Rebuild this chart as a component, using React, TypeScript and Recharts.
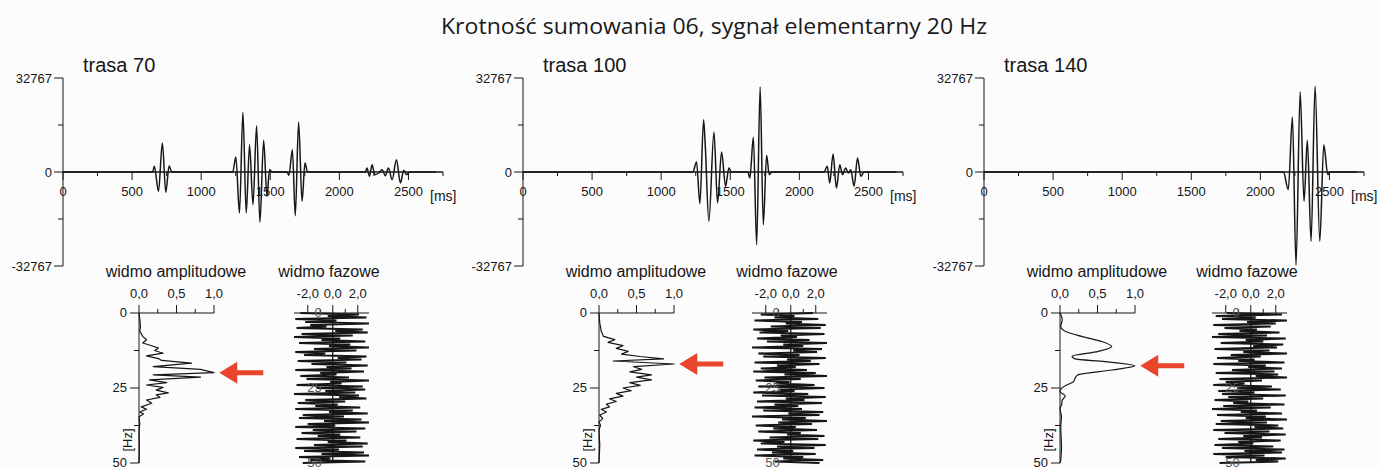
import React from 'react';
import { LineChart, Line, XAxis, YAxis, ReferenceLine, ReferenceDot } from 'recharts';

const SANS = '"Liberation Sans", Arial, Helvetica, sans-serif';
const TITLE_FONT = '"Open Sans", "Noto Sans", sans-serif';
const INK = '#161616';
const ARROW_RED = '#e8452c';

const TITLE = 'Krotność sumowania 06, sygnał elementarny 20 Hz';
const TRACE_NAMES = ['trasa 70', 'trasa 100', 'trasa 140'];
const AMP_TITLE = 'widmo amplitudowe';
const PHASE_TITLE = 'widmo fazowe';
const TIME_UNIT = '[ms]';
const FREQ_UNIT = '[Hz]';

// axis ticks
const TIME_TICKS = [0, 250, 500, 750, 1000, 1250, 1500, 1750, 2000, 2250, 2500, 2750];
const TIME_LABELS = [0, 500, 1000, 1500, 2000, 2500];
const LEVEL_TICKS = [-32767, -16384, 0, 16384, 32767];
const LEVEL_LABELS = [-32767, 0, 32767];
const RATIO_TICKS = [0, 0.25, 0.5, 0.75, 1];
const RATIO_LABELS = [0, 0.5, 1];
const FREQ_TICKS = [0, 12.5, 25, 37.5, 50];
const FREQ_LABELS = [0, 25, 50];
const PHASE_TICKS = [-2, -1, 0, 1, 2];
const PHASE_LABELS = [-2, 0, 2];
const PHASE_STEP_HZ = 0.5;

// seismic traces: time [ms], sample value
const TRACE_70 = [
  { t: 0, v: 0 }, { t: 649, v: 0 }, { t: 661, v: 1975 }, { t: 691, v: -6740 }, { t: 719, v: 10109 },
  { t: 744, v: -7088 }, { t: 768, v: 2208 }, { t: 787, v: 0 },
  { t: 1228, v: 0 }, { t: 1251, v: 5229 }, { t: 1277, v: -14292 }, { t: 1302, v: 20800 }, { t: 1326, v: -14292 },
  { t: 1350, v: 9528 }, { t: 1375, v: -11387 }, { t: 1401, v: 16152 }, { t: 1425, v: -17546 }, { t: 1452, v: 11039 },
  { t: 1476, v: -8482 }, { t: 1495, v: 900 }, { t: 1512, v: 0 },
  { t: 1621, v: 0 }, { t: 1635, v: -1160 }, { t: 1660, v: 7785 }, { t: 1681, v: -15222 }, { t: 1705, v: 17430 },
  { t: 1730, v: -10225 }, { t: 1751, v: 3137 }, { t: 1770, v: 0 },
  { t: 2188, v: 0 }, { t: 2200, v: 1394 }, { t: 2218, v: -1510 }, { t: 2237, v: 2556 }, { t: 2256, v: -930 },
  { t: 2285, v: -349 }, { t: 2309, v: 813 }, { t: 2333, v: -1278 }, { t: 2355, v: 1394 }, { t: 2382, v: -2672 },
  { t: 2413, v: 4299 }, { t: 2442, v: -3834 }, { t: 2466, v: 581 }, { t: 2486, v: -930 }, { t: 2510, v: 0 },
  { t: 2700, v: 0 },
];

const TRACE_100 = [
  { t: 0, v: 0 }, { t: 1229, v: 0 }, { t: 1256, v: 3486 }, { t: 1280, v: -11039 }, { t: 1307, v: 18243 },
  { t: 1319, v: 9296 }, { t: 1345, v: -17197 }, { t: 1382, v: 13944 }, { t: 1408, v: -10806 }, { t: 1437, v: 6972 },
  { t: 1466, v: -4997 }, { t: 1490, v: 1394 }, { t: 1508, v: 0 },
  { t: 1627, v: 0 }, { t: 1642, v: -2092 }, { t: 1667, v: 12084 }, { t: 1691, v: -25331 }, { t: 1716, v: 29630 },
  { t: 1739, v: -18359 }, { t: 1763, v: 5810 }, { t: 1782, v: -930 }, { t: 1802, v: 0 },
  { t: 2178, v: 0 }, { t: 2202, v: 1975 }, { t: 2220, v: -3834 }, { t: 2244, v: 6275 }, { t: 2268, v: -5577 },
  { t: 2293, v: 2556 }, { t: 2312, v: -930 }, { t: 2335, v: 1394 }, { t: 2355, v: -349 }, { t: 2372, v: 813 },
  { t: 2396, v: -4997 }, { t: 2421, v: 4880 }, { t: 2445, v: -1510 }, { t: 2468, v: 0 },
  { t: 2700, v: 0 },
];

const TRACE_140 = [
  { t: 0, v: 0 }, { t: 2167, v: 0 }, { t: 2202, v: -6158 }, { t: 2232, v: 19172 }, { t: 2258, v: -32500 },
  { t: 2288, v: 27887 }, { t: 2316, v: -10225 }, { t: 2340, v: 11039 }, { t: 2367, v: -24169 }, { t: 2396, v: 29862 },
  { t: 2430, v: -24169 }, { t: 2459, v: 9528 }, { t: 2488, v: -930 }, { t: 2505, v: 0 },
  { t: 2700, v: 0 },
];

// normalised amplitude spectra: frequency [Hz], amplitude
const AMP_70 = [
  { f: 0, a: 0 }, { f: 2, a: 0.01 }, { f: 4.5, a: 0.02 }, { f: 6, a: 0.01 }, { f: 7.8, a: 0.05 }, { f: 8.9, a: 0.1 },
  { f: 10, a: 0.05 }, { f: 10.9, a: 0.17 }, { f: 11.7, a: 0.26 }, { f: 12.5, a: 0.21 }, { f: 13.4, a: 0.32 },
  { f: 14.3, a: 0.1 }, { f: 15.2, a: 0.26 }, { f: 15.8, a: 0.3 }, { f: 16.7, a: 0.7 }, { f: 17.9, a: 0.19 },
  { f: 18.8, a: 0.82 }, { f: 19.9, a: 1.0 }, { f: 20.6, a: 0.19 }, { f: 21.4, a: 0.82 }, { f: 22.3, a: 0.14 },
  { f: 23.2, a: 0.37 }, { f: 24, a: 0.1 }, { f: 24.8, a: 0.32 }, { f: 25.7, a: 0.23 }, { f: 26.6, a: 0.39 },
  { f: 27.3, a: 0.23 }, { f: 28.1, a: 0.28 }, { f: 29, a: 0.1 }, { f: 30.1, a: 0.17 }, { f: 31.3, a: 0.03 },
  { f: 32.1, a: 0.1 }, { f: 33, a: 0.01 }, { f: 33.7, a: 0.06 }, { f: 34.6, a: 0 }, { f: 36.8, a: 0.01 },
  { f: 40, a: 0 }, { f: 45, a: 0.005 }, { f: 50, a: 0 },
];

const AMP_100 = [
  { f: 0, a: 0 }, { f: 3.3, a: 0.01 }, { f: 6.1, a: 0.03 }, { f: 7.8, a: 0.06 }, { f: 8.9, a: 0.21 }, { f: 9.8, a: 0.12 },
  { f: 10.9, a: 0.32 }, { f: 11.8, a: 0.23 }, { f: 12.8, a: 0.39 }, { f: 13.7, a: 0.3 }, { f: 14.5, a: 0.55 },
  { f: 15.3, a: 0.86 }, { f: 16, a: 0.19 }, { f: 17, a: 1.0 }, { f: 17.9, a: 0.46 }, { f: 18.8, a: 0.57 },
  { f: 19.6, a: 0.41 }, { f: 20.6, a: 0.7 }, { f: 21.4, a: 0.5 }, { f: 22.3, a: 0.7 }, { f: 23.2, a: 0.41 },
  { f: 24.1, a: 0.55 }, { f: 25, a: 0.32 }, { f: 25.9, a: 0.43 }, { f: 26.8, a: 0.23 }, { f: 27.7, a: 0.32 },
  { f: 28.6, a: 0.14 }, { f: 29.5, a: 0.23 }, { f: 30.4, a: 0.1 }, { f: 31.3, a: 0.14 }, { f: 32.1, a: 0.03 },
  { f: 33, a: 0.1 }, { f: 34, a: 0.01 }, { f: 35.2, a: 0.05 }, { f: 36.3, a: 0 }, { f: 37.4, a: 0.02 },
  { f: 39, a: 0 }, { f: 44, a: 0.01 }, { f: 50, a: 0 },
];

const AMP_140 = [
  { f: 0, a: 0 }, { f: 2.2, a: 0.03 }, { f: 4.5, a: 0.01 }, { f: 6.1, a: 0.07 }, { f: 7.8, a: 0.29 },
  { f: 9.5, a: 0.56 }, { f: 11.2, a: 0.69 }, { f: 12.8, a: 0.51 }, { f: 14.5, a: 0.16 }, { f: 15.3, a: 0.2 },
  { f: 16.2, a: 0.6 }, { f: 17.6, a: 1.0 }, { f: 19, a: 0.69 }, { f: 20.6, a: 0.24 }, { f: 21.8, a: 0.2 },
  { f: 22.9, a: 0.18 }, { f: 24, a: 0.09 }, { f: 25.1, a: 0.02 }, { f: 26.2, a: 0 }, { f: 27.7, a: 0.07 },
  { f: 29, a: 0.03 }, { f: 30.7, a: 0.02 }, { f: 31.8, a: 0 }, { f: 34.6, a: 0.02 }, { f: 37.9, a: 0.01 },
  { f: 44.6, a: 0.02 }, { f: 49, a: 0.01 }, { f: 50, a: 0 },
];

// phase spectra [rad], one value every PHASE_STEP_HZ from 0 Hz
const PHASE_70 = [
  -2.6, 2.1, -0.4, 2.7, -3.0, 0.3, -2.2, 2.9, -1.8, -0.5,
  -2.9, 2.4, 0.2, 2.8, -2.5, 1.6, -3.1, 0.6, -0.9, 2.6,
  -2.7, 1.4, -0.3, 2.9, -1.5, 1.9, -3.0, -0.6, -2.3, 2.7,
  0.4, 2.3, -2.8, 1.1, -1.7, 2.8, -0.5, 1.5, -3.0, 2.5,
  -1.0, 0.3, -2.6, 1.3, -2.1, 2.9, -0.2, 0.7, -2.9, 2.4,
  -1.3, 2.6, -0.6, 1.8, -3.1, 2.1, 0.5, 2.7, -2.2, 1.0,
  -2.8, 0.4, -1.4, 2.2, -3.0, 1.6, -0.3, 2.8, -2.4, 0.9,
  -2.7, 2.3, -0.7, 2.9, -2.0, 0.2, -3.0, 2.6, -1.6, 1.9,
  -2.5, 0.6, -1.2, 2.2, -2.9, 1.1, -0.4, 2.8, -1.5, 2.4,
  -3.0, 0.5, -2.3, 2.5, -0.9, 2.9, -2.7, -0.2, -1.8, 2.6,
  -2.4,
];

const PHASE_100 = [
  1.8, -2.4, 0.3, -1.3, 2.2, -2.9, 0.9, -0.4, 2.8, -1.6,
  2.4, -3.0, -0.2, -2.5, 2.7, -0.8, 0.5, -2.7, 1.5, -1.9,
  2.9, -0.6, 1.0, -3.1, 2.5, 0.2, 2.1, -2.6, 0.7, -2.2,
  2.8, -0.3, 1.6, -2.9, 2.3, -1.1, 0.4, -2.4, 1.3, -3.0,
  2.0, -0.5, 2.9, -2.1, 0.8, -2.8, -0.1, -1.2, 1.9, -2.6,
  2.7, -0.9, 0.3, -3.0, 1.4, -2.3, 2.8, -0.4, 1.1, -2.7,
  2.5, -1.3, 0.6, -2.9, 0.9, -2.2, 2.6, -0.2, 2.3, -3.1,
  1.2, -0.7, 2.9, -1.0, 1.7, -2.8, 0.4, -1.4, 2.1, -2.6,
  0.8, -0.3, 2.7, -1.7, 2.2, -3.0, -0.5, -2.4, 2.8, -1.1,
  1.9, -2.7, 0.2, -1.5, 2.0, -2.9, 1.0, -0.6, 2.6, -1.3,
  2.3,
];

const PHASE_140 = [
  -1.9, 2.5, -2.8, 0.4, -2.3, 2.9, -0.3, 2.0, -3.0, 1.6,
  -2.1, 0.5, -0.9, 2.3, -2.6, 1.3, -3.1, 2.8, -0.4, 1.0,
  -2.4, 2.6, 0.2, 2.1, -2.9, 1.5, -0.6, 2.9, -1.6, 0.8,
  -2.7, 0.3, -1.0, 2.7, -3.0, 1.2, -0.2, 2.5, -1.5, 1.9,
  -2.8, 2.2, 0.4, 2.9, -2.5, 0.9, -2.0, -0.5, -3.0, 1.7,
  -1.1, 2.4, -2.6, 0.3, -2.3, 2.8, -1.8, 1.0, -2.9, -0.2,
  -1.4, 2.7, -2.2, 1.6, -3.1, 0.5, -0.8, 2.5, -2.7, 1.2,
  -0.4, 2.9, -2.4, 1.3, -2.8, 2.2, 0.3, 2.6, -3.0, 1.5,
  -2.1, 2.8, -0.6, 0.9, -2.6, 2.4, -1.0, 0.2, -2.9, 1.8,
  -2.3, 2.7, -0.5, 2.5, -3.0, 1.1, -2.0, 2.8, 0.4, 2.2,
  -2.5,
];

// layout (px)
const TRACE_TOP = 78;
const TRACE_H = 188;
const TRACE_W = 380;
const TIME_MAX = 2750;
const SPEC_TOP = 313;
const SPEC_H = 150;
const SPEC_W = 75;
const PHASE_MIN = -3.1;
const PHASE_MAX = 2.9;

const PANELS = [
  { name: TRACE_NAMES[0], trace: TRACE_70, amp: AMP_70, ampCurve: 'linear', phase: PHASE_70, x: 63, ampX: 139, phaseX: 332 },
  { name: TRACE_NAMES[1], trace: TRACE_100, amp: AMP_100, ampCurve: 'linear', phase: PHASE_100, x: 523, ampX: 599, phaseX: 790 },
  { name: TRACE_NAMES[2], trace: TRACE_140, amp: AMP_140, ampCurve: 'monotoneY', phase: PHASE_140, x: 984, ampX: 1060, phaseX: 1250 },
];

const fmtComma = (v: number) => v.toFixed(1).replace('.', ',');

function TimeTick(props: any) {
  const { x, payload, zeroY } = props;
  const v = payload.value;
  const labelled = TIME_LABELS.includes(v);
  return (
    <g>
      <line x1={x} x2={x} y1={zeroY} y2={zeroY + (labelled ? 8 : 4)} stroke={INK} strokeWidth={1} />
      {labelled && (
        <text x={x} y={zeroY + 24} textAnchor="middle" fontSize={13} fontFamily={SANS} fill={INK}>
          {v}
        </text>
      )}
    </g>
  );
}

function LevelTick(props: any) {
  const { x, y, payload } = props;
  const v = payload.value;
  const labelled = LEVEL_LABELS.includes(v);
  return (
    <g>
      <line x1={x - (labelled ? 9 : 5)} x2={x} y1={y} y2={y} stroke={INK} strokeWidth={1} />
      {labelled && (
        <text x={x - 11} y={y} dy="0.36em" textAnchor="end" fontSize={13} fontFamily={SANS} fill={INK}>
          {v}
        </text>
      )}
    </g>
  );
}

function TopTick(props: any) {
  const { x, y, payload, labels } = props;
  const v = payload.value;
  const labelled = labels.includes(v);
  return (
    <g>
      <line x1={x} x2={x} y1={y} y2={y - (labelled ? 8 : 4)} stroke={INK} strokeWidth={1} />
      {labelled && (
        <text x={x} y={y - 15} textAnchor="middle" fontSize={13} fontFamily={SANS} fill={INK}>
          {fmtComma(v)}
        </text>
      )}
    </g>
  );
}

function FreqTick(props: any) {
  const { x, y, payload } = props;
  const v = payload.value;
  const labelled = FREQ_LABELS.includes(v);
  return (
    <g>
      <line x1={x - (labelled ? 9 : 5)} x2={x} y1={y} y2={y} stroke={INK} strokeWidth={1} />
      {labelled && (
        <text x={x - 12} y={y} dy="0.3em" textAnchor="end" fontSize={13} fontFamily={SANS} fill={INK}>
          {v}
        </text>
      )}
    </g>
  );
}

function InnerFreqTick(props: any) {
  const { x, y, payload, dx } = props;
  return (
    <text x={x + dx} y={y} dy="0.3em" textAnchor="end" fontSize={13} fontFamily={SANS} fill="#555">
      {payload.value}
    </text>
  );
}

function ArrowMark(props: any) {
  const { cx, cy } = props;
  if (cx == null || cy == null) return null;
  const pts = [
    [cx, cy],
    [cx + 18, cy - 11],
    [cx + 18, cy - 2.5],
    [cx + 44, cy - 2.5],
    [cx + 44, cy + 2.5],
    [cx + 18, cy + 2.5],
    [cx + 18, cy + 11],
  ]
    .map((p) => p.join(','))
    .join(' ');
  return <polygon points={pts} fill={ARROW_RED} />;
}

function TraceChart({ left, data }: { left: number; data: { t: number; v: number }[] }) {
  const axisW = 70;
  const top = 50;
  const mTop = TRACE_TOP - top;
  const right = 45;
  const bottom = 12;
  const zeroY = mTop + TRACE_H / 2;
  return (
    <div style={{ position: 'absolute', left: left - axisW, top }}>
      <LineChart
        width={axisW + TRACE_W + right}
        height={mTop + TRACE_H + 1 + bottom}
        data={data}
        margin={{ top: mTop, right, bottom, left: 0 }}
      >
        <XAxis
          type="number"
          dataKey="t"
          domain={[0, TIME_MAX]}
          ticks={TIME_TICKS}
          interval={0}
          height={1}
          axisLine={false}
          tickLine={false}
          tickSize={0}
          tickMargin={0}
          tick={(p: any) => <TimeTick {...p} zeroY={zeroY} />}
        />
        <YAxis
          type="number"
          domain={[-32767, 32767]}
          ticks={LEVEL_TICKS}
          interval={0}
          width={axisW}
          allowDataOverflow
          axisLine={{ stroke: INK, strokeWidth: 1 }}
          tickLine={false}
          tickSize={0}
          tickMargin={0}
          tick={(p: any) => <LevelTick {...p} />}
        />
        <ReferenceLine y={0} stroke={INK} strokeWidth={1.3} />
        <Line
          type="monotone"
          dataKey="v"
          stroke={INK}
          strokeWidth={1.5}
          strokeLinejoin="round"
          dot={false}
          isAnimationActive={false}
        />
      </LineChart>
    </div>
  );
}

function AmpSpectrum({ left, data, curve }: { left: number; data: { f: number; a: number }[]; curve: any }) {
  const axisW = 40;
  const top = 270;
  const mTop = SPEC_TOP - top - 1;
  const right = 60;
  const bottom = 12;
  const peak = data.reduce((best, d) => (d.a > best.a ? d : best), data[0]);
  return (
    <div style={{ position: 'absolute', left: left - axisW, top }}>
      <LineChart
        layout="vertical"
        width={axisW + SPEC_W + right}
        height={mTop + 1 + SPEC_H + bottom}
        data={data}
        margin={{ top: mTop, right, bottom, left: 0 }}
      >
        <XAxis
          type="number"
          orientation="top"
          domain={[0, 1]}
          ticks={RATIO_TICKS}
          interval={0}
          height={1}
          axisLine={{ stroke: INK, strokeWidth: 1 }}
          tickLine={false}
          tickSize={0}
          tickMargin={0}
          tick={(p: any) => <TopTick {...p} labels={RATIO_LABELS} />}
        />
        <YAxis
          type="number"
          dataKey="f"
          domain={[0, 50]}
          ticks={FREQ_TICKS}
          interval={0}
          width={axisW}
          axisLine={{ stroke: INK, strokeWidth: 1 }}
          tickLine={false}
          tickSize={0}
          tickMargin={0}
          tick={(p: any) => <FreqTick {...p} />}
        />
        <Line
          type={curve}
          dataKey="a"
          stroke={INK}
          strokeWidth={1.2}
          strokeLinejoin="round"
          dot={false}
          isAnimationActive={false}
        />
        <ReferenceDot
          x={1.07}
          y={peak.f}
          r={0}
          ifOverflow="visible"
          shape={(p: any) => <ArrowMark {...p} />}
        />
      </LineChart>
    </div>
  );
}

function PhaseSpectrum({ zeroX, values }: { zeroX: number; values: number[] }) {
  const pxPerUnit = SPEC_W / (PHASE_MAX - PHASE_MIN);
  const plotLeft = zeroX + PHASE_MIN * pxPerUnit;
  const top = 270;
  const mTop = SPEC_TOP - top - 1;
  const pad = 12;
  const bottom = 12;
  const data = values.map((p, i) => ({ f: i * PHASE_STEP_HZ, p }));
  return (
    <div style={{ position: 'absolute', left: plotLeft - pad, top }}>
      <LineChart
        layout="vertical"
        width={pad + 1 + SPEC_W + pad}
        height={mTop + 1 + SPEC_H + bottom}
        data={data}
        margin={{ top: mTop, right: pad, bottom, left: pad }}
      >
        <XAxis
          type="number"
          orientation="top"
          domain={[PHASE_MIN, PHASE_MAX]}
          allowDataOverflow
          ticks={PHASE_TICKS}
          interval={0}
          height={1}
          axisLine={{ stroke: INK, strokeWidth: 1 }}
          tickLine={false}
          tickSize={0}
          tickMargin={0}
          tick={(p: any) => <TopTick {...p} labels={PHASE_LABELS} />}
        />
        <YAxis
          type="number"
          dataKey="f"
          domain={[0, 50]}
          ticks={FREQ_LABELS}
          interval={0}
          width={1}
          axisLine={false}
          tickLine={false}
          tickSize={0}
          tickMargin={0}
          tick={(p: any) => <InnerFreqTick {...p} dx={-PHASE_MIN * pxPerUnit - 11} />}
        />
        <Line
          type="linear"
          dataKey="p"
          stroke={INK}
          strokeWidth={2}
          dot={false}
          isAnimationActive={false}
        />
        <ReferenceLine x={0} stroke={INK} strokeWidth={1.3} />
      </LineChart>
    </div>
  );
}

function Labels() {
  return (
    <svg width={1378} height={468} style={{ position: 'absolute', left: 0, top: 0 }}>
      <text
        x={714}
        y={34}
        textAnchor="middle"
        fontSize={21}
        fontFamily={TITLE_FONT}
        fill="#1a1a1a"
        textLength={546}
        lengthAdjust="spacingAndGlyphs"
      >
        {TITLE}
      </text>
      {PANELS.map((p) => (
        <g key={p.name}>
          <text x={p.x + 20} y={72} fontSize={20} fontFamily={SANS} fill={INK}>
            {p.name}
          </text>
          <text x={p.x + 367} y={201} fontSize={14} fontFamily={SANS} fill={INK}>
            {TIME_UNIT}
          </text>
          <text x={p.ampX + 37} y={277} textAnchor="middle" fontSize={16} fontFamily={SANS} fill={INK}>
            {AMP_TITLE}
          </text>
          <text x={p.phaseX - 3} y={277} textAnchor="middle" fontSize={16} fontFamily={SANS} fill={INK}>
            {PHASE_TITLE}
          </text>
          <text
            x={0}
            y={0}
            transform={`translate(${p.ampX - 7}, 440) rotate(-90)`}
            textAnchor="middle"
            fontSize={13}
            fontFamily={SANS}
            fill={INK}
          >
            {FREQ_UNIT}
          </text>
        </g>
      ))}
    </svg>
  );
}

export default function App() {
  return (
    <div
      style={{
        position: 'absolute',
        left: 0,
        top: 0,
        width: 1378,
        height: 468,
        background: '#fcfcfd',
        overflow: 'hidden',
      }}
    >
      <Labels />
      {PANELS.map((p) => (
        <React.Fragment key={p.name}>
          <TraceChart left={p.x} data={p.trace} />
          <AmpSpectrum left={p.ampX} data={p.amp} curve={p.ampCurve} />
          <PhaseSpectrum zeroX={p.phaseX} values={p.phase} />
        </React.Fragment>
      ))}
    </div>
  );
}
